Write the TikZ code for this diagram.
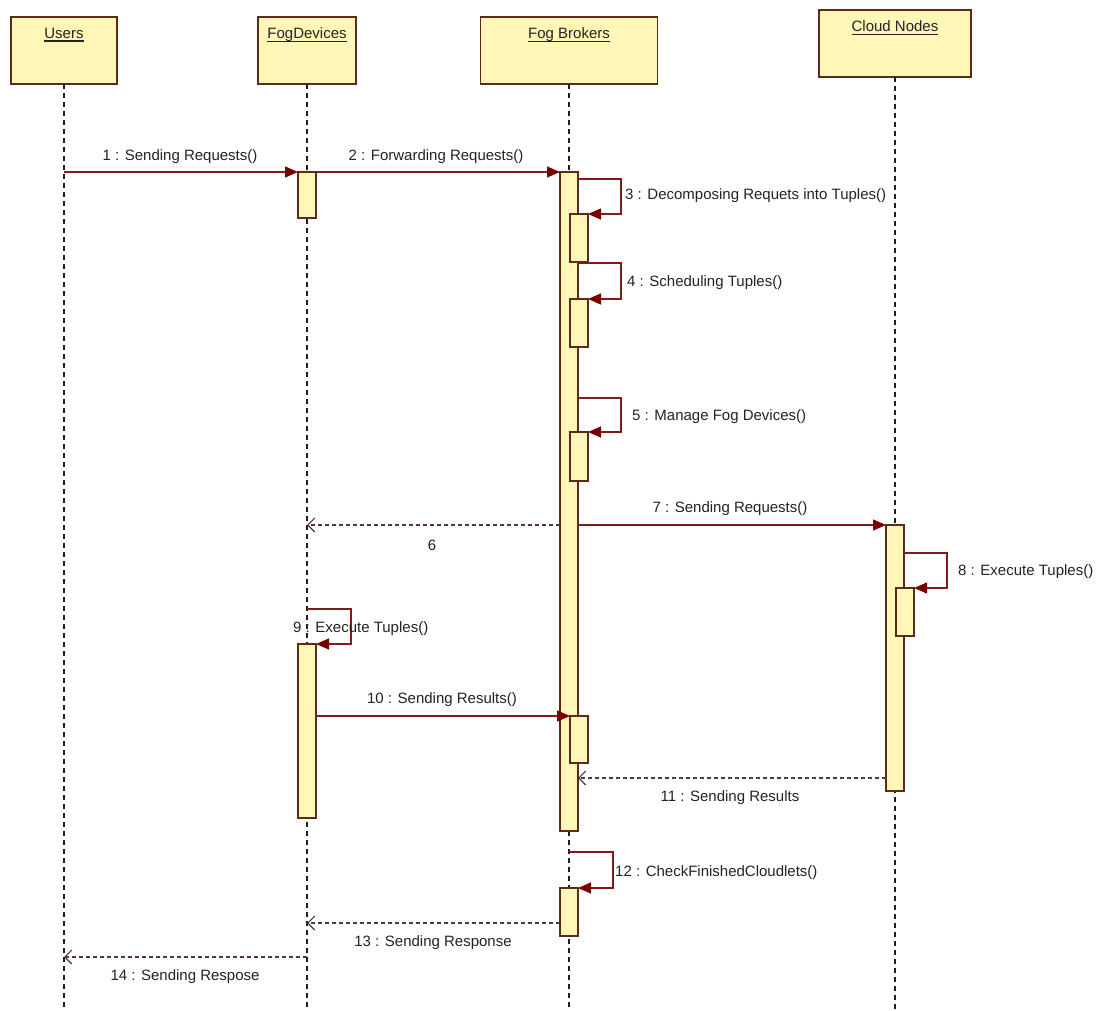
\documentclass[tikz,border=0pt]{standalone}
\usepackage{fontspec}
\setmainfont{Liberation Sans}
\usetikzlibrary{arrows.meta}

\definecolor{boxfill}{RGB}{255,246,184}
\definecolor{edge}{RGB}{92,42,22}
\definecolor{msgline}{RGB}{130,28,28}
\definecolor{tipfill}{RGB}{120,0,0}
\definecolor{retline}{RGB}{85,55,55}
\definecolor{lifec}{RGB}{30,30,30}
\definecolor{txt}{RGB}{35,35,35}

% underlined lifeline title
\newcommand{\lltitle}[1]{\setbox0\hbox{#1}\rlap{\raisebox{-3.2pt}{\color{txt}\rule{\wd0}{1.3pt}}}\box0}

\begin{document}
\begin{tikzpicture}[x=1pt,y=-1pt,
  font=\fontsize{15}{18}\selectfont,
  head/.style={draw=edge, fill=boxfill, line width=1.3pt, minimum height=67pt,
    inner sep=0, outer sep=0, anchor=north},
  bar/.style={draw=edge, fill=boxfill, line width=1.2pt, minimum width=18pt,
    inner sep=0, outer sep=0, anchor=north},
  lifeline/.style={draw=lifec, line width=1.1pt, dash pattern=on 5pt off 4pt},
  call/.style={draw=msgline, line width=1.2pt,
    -{Triangle[length=13pt,width=11pt,fill=tipfill,color=tipfill]}},
  reply/.style={draw=retline, line width=1.1pt, dash pattern=on 4pt off 3pt,
    -{Straight Barb[length=7pt,width=14pt,line width=1.1pt]}},
  lbl/.style={text=txt, inner sep=0},
  ttl/.style={text=txt, inner sep=0}]

\useasboundingbox (0,0) rectangle (1102,1011);
\fill[white] (0,0) rectangle (1102,1011);

% lifeline heads
\node[head, minimum width=106pt] (users)  at (64,17)  {};
\node[head, minimum width=98pt]  (fogdev) at (307,17) {};
\node[head, minimum width=177pt] (broker) at (569,17) {};
\node[head, minimum width=152pt] (cloud)  at (895,10) {};
\node[ttl] (usersT)  at (64,35)  {\lltitle{Users}};
\node[ttl] (fogdevT) at (307,35) {\lltitle{FogDevices}};
\node[ttl] (brokerT) at (569,35) {\lltitle{Fog Brokers}};
\node[ttl] (cloudT)  at (895,28) {\lltitle{Cloud Nodes}};

% lifelines
\draw[lifeline] (users.south)  -- (users.south |- 0,1011);
\draw[lifeline] (fogdev.south) -- (fogdev.south |- 0,1011);
\draw[lifeline] (broker.south) -- (broker.south |- 0,1011);
\draw[lifeline] (cloud.south)  -- (cloud.south |- 0,1011);

% activation bars
\node[bar, minimum height=46pt]  (fd1) at (307,172) {};
\node[bar, minimum height=174pt] (fd9) at (307,644) {};
\node[bar, minimum height=659pt] (brk) at (569,172) {};
\node[bar, minimum height=48pt]  (n3)  at (579,214) {};
\node[bar, minimum height=48pt]  (n4)  at (579,299) {};
\node[bar, minimum height=49pt]  (n5)  at (579,432) {};
\node[bar, minimum height=47pt]  (n10) at (579,716) {};
\node[bar, minimum height=48pt]  (n12) at (569,888) {};
\node[bar, minimum height=266pt] (cld) at (895,525) {};
\node[bar, minimum height=48pt]  (n8)  at (905,588) {};

% messages
\draw[call] (users.south |- fd1.north) -- (fd1.north west);
\draw[call] (fd1.north east) -- (brk.north west);
\draw[call] (brk.east |- 0,179) -| (621,214) -- (n3.north east);
\draw[call] (brk.east |- 0,263) -| (621,299) -- (n4.north east);
\draw[call] (brk.east |- 0,398) -| (621,432) -- (n5.north east);
\draw[reply] (brk.west |- cld.north) -- (fogdev.south |- cld.north);
\draw[call] (brk.east |- cld.north) -- (cld.north west);
\draw[call] (cld.east |- 0,553) -| (947,588) -- (n8.north east);
\draw[call] (fogdev.south |- 0,609) -| (351,644) -- (fd9.north east);
\draw[call] (fd9.east |- n10.north) -- (n10.north west);
\draw[reply] (cld.west |- 0,778) -- (brk.east |- 0,778);
\draw[call] (n12.north |- 0,852) -| (613,888) -- (n12.north east);
\draw[reply] (n12.west |- 0,923) -- (fogdev.south |- 0,923);
\draw[reply] (fogdev.south |- 0,957) -- (users.south |- 0,957);

% message labels
\node[lbl] (l1)  at (180,157) {1 : Sending Requests()};
\node[lbl] (l2)  at (436,157) {2 : Forwarding Requests()};
\node[lbl, anchor=west] (l3)  at (625,196) {3 : Decomposing Requets into Tuples()};
\node[lbl, anchor=west] (l4)  at (627,283) {4 : Scheduling Tuples()};
\node[lbl, anchor=west] (l5)  at (632,417) {5 : Manage Fog Devices()};
\node[lbl] (l6)  at (432,545) {6};
\node[lbl] (l7)  at (730,509) {7 : Sending Requests()};
\node[lbl, anchor=west] (l8)  at (958,572) {8 : Execute Tuples()};
\node[lbl, anchor=west] (l9)  at (293,629) {9 : Execute Tuples()};
\node[lbl] (l10) at (442,700) {10 : Sending Results()};
\node[lbl] (l11) at (730,798) {11 : Sending Results};
\node[lbl, anchor=west] (l12) at (615,873) {12 : CheckFinishedCloudlets()};
\node[lbl] (l13) at (433,943) {13 : Sending Response};
\node[lbl] (l14) at (185,977) {14 : Sending Respose};
\end{tikzpicture}
\end{document}
